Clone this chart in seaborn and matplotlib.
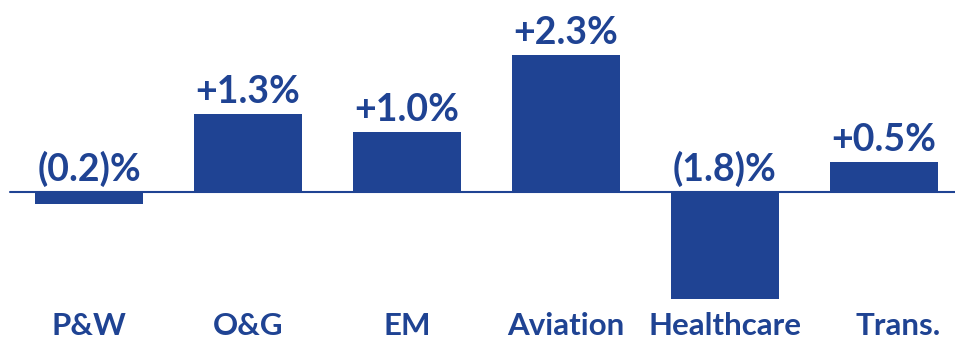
import matplotlib
matplotlib.use("Agg")
import matplotlib.pyplot as plt
import seaborn as sns
import pandas as pd

categories = ["P&W", "O&G", "EM", "Aviation", "Healthcare", "Trans."]
values = [-0.2, 1.3, 1.0, 2.3, -1.8, 0.5]
value_labels = ["(0.2)%", "+1.3%", "+1.0%", "+2.3%", "(1.8)%", "+0.5%"]

BLUE = "#1F4393"

sns.set_theme(style="white")
plt.rcParams["font.family"] = ["Lato", "DejaVu Sans"]

df = pd.DataFrame({"segment": categories, "change": values})

fig = plt.figure(figsize=(9.55, 3.39), dpi=100)
ax = fig.add_axes([0, 0, 1, 1])

sns.barplot(data=df, x="segment", y="change", color=BLUE, width=0.68,
            linewidth=0, saturation=1, ax=ax)

ax.set_xlim(-0.56, 5.447)
ax.set_ylim(-2.466, 3.22)
ax.axhline(0, xmin=0.01, xmax=1, color=BLUE, linewidth=1.5, zorder=3)

for i, (v, lab) in enumerate(zip(values, value_labels)):
    ax.annotate(lab, xy=(i, max(v, 0)), xytext=(0, 8), textcoords="offset points",
                ha="center", va="baseline", fontsize=27, fontweight="bold",
                color=BLUE)

# the last category label sits a little right of its bar
label_shift = [0, 0, 0, 0, 0, 0.09]
for i, cat in enumerate(categories):
    ax.text(i + label_shift[i], -2.40, cat, ha="center", va="baseline",
            fontsize=22.5, fontweight="bold", color=BLUE)

ax.set_axis_off()
fig.savefig("out.png", dpi=100)
